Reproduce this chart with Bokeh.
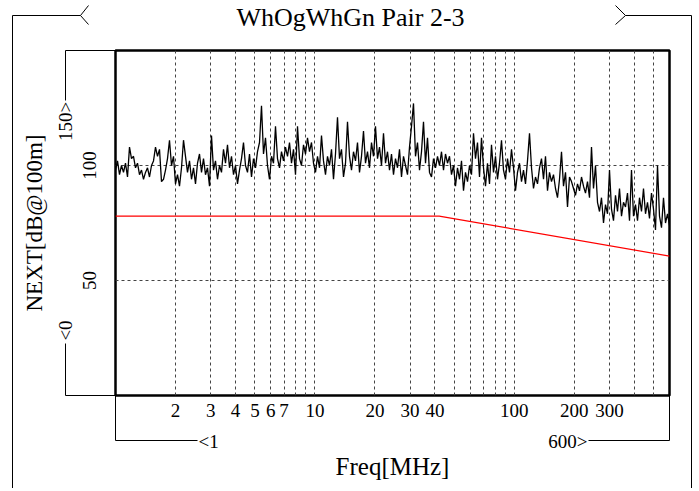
import numpy as np
from math import pi
from bokeh.plotting import figure
from bokeh.models import Range1d, LinearScale, FixedTicker, PrintfTickFormatter
from bokeh.core.properties import value
from bokeh.embed import file_html
from bokeh.resources import INLINE

# ---- data ----
next_db = [
    98, 102, 96, 100, 97, 101, 95, 108, 103, 104, 99, 101, 96, 98, 94, 97, 99, 95, 100, 102,
    108, 104, 107, 93, 94, 98, 103, 111, 100, 104, 92, 96, 91, 99, 111, 104, 97, 102, 94, 99,
    92, 101, 105, 97, 103, 96, 99, 91, 113, 98, 102, 94, 100, 97, 107, 101, 109, 99, 104, 96,
    100, 92, 98, 103, 110, 100, 97, 105, 95, 103,
    99, 106, 110, 126, 105, 112, 100, 94, 104, 101, 117, 103, 99, 106, 102, 108, 104, 110, 101, 107,
    96, 117, 103, 100, 109, 105, 112, 106, 110, 101, 97, 104, 99, 113, 102, 96, 104, 100, 107, 94,
    105, 121, 103, 107, 95, 101, 119, 104, 98, 106, 102, 110, 97, 104, 115, 101, 106, 99, 110, 104,
    117, 103, 108, 100, 114, 101, 106, 98, 105, 96,
    103, 99, 107, 95, 104, 100, 96, 108, 117, 127, 104, 110, 98, 106, 119, 101, 112, 97, 95, 103,
    99, 104, 100, 106, 98, 105, 101, 104, 96, 100, 91, 99, 94, 102, 89, 97, 93, 100, 96, 114,
    103, 110, 95, 112, 99, 91, 101, 92, 109, 97, 104, 94, 101, 111, 98, 94, 103, 97, 107, 99,
    89, 97, 101, 93, 98, 92, 102, 114, 99, 90,
    95, 92, 99, 103, 94, 104, 89, 97, 93, 96, 90, 86, 94, 106, 91, 97, 82, 95, 93, 90,
    87, 92, 89, 95, 91, 88, 93, 86, 108, 90, 100, 84, 80, 86, 75, 83, 79, 98, 81, 76,
    87, 80, 90, 78, 84, 82, 88, 76, 98, 78, 83, 76, 86, 80, 90, 79, 84, 77, 88, 81,
    72, 100, 78, 73, 86, 75, 79, 74,
]
freq = np.geomspace(1, 600, len(next_db))

limit_freq = [1, 42, 600]
limit_db = [78, 78, 60.6]

x_label_ticks = [2, 3, 4, 5, 6, 7, 10, 20, 30, 40, 100, 200, 300]
x_grid_ticks = [2, 3, 4, 5, 6, 7, 8, 9, 10, 20, 30, 40, 50, 60, 70, 80, 90,
                100, 200, 300, 400, 500]
y_ticks = [50, 100]

FONT = "Liberation Serif"

W, H = 696, 488
p = figure(width=W, height=H, x_axis_type="log", x_range=(1, 600), y_range=(0, 150),
           output_backend="svg", toolbar_location=None, title=None,
           min_border_left=115, min_border_right=W - 669,
           min_border_top=50, min_border_bottom=H - 395)
p.background_fill_color = "white"
p.border_fill_color = "white"
p.outline_line_color = "black"
p.outline_line_width = 2.5

# axes
p.xaxis.ticker = FixedTicker(ticks=x_label_ticks, minor_ticks=[])
p.xaxis.formatter = PrintfTickFormatter(format="%d")
p.yaxis.ticker = FixedTicker(ticks=y_ticks, minor_ticks=[])
p.yaxis.major_label_orientation = "vertical"
for ax in (p.xaxis[0], p.yaxis[0]):
    ax.axis_line_color = None
    ax.major_tick_line_color = None
    ax.minor_tick_line_color = None
    ax.major_tick_out = 0
    ax.major_tick_in = 0
    ax.major_label_text_font = FONT
    ax.major_label_text_font_size = "19px"
    ax.major_label_text_color = "black"
    ax.axis_label_text_font = FONT
    ax.axis_label_text_font_style = "normal"
    ax.axis_label_text_color = "black"
p.xaxis.axis_label = "Freq[MHz]"
p.yaxis.axis_label = "NEXT[dB@100m]"
p.xaxis.axis_label_text_font_size = "25px"
p.yaxis.axis_label_text_font_size = "23px"
p.xaxis.major_label_standoff = 8
p.xaxis.axis_label_standoff = 33
p.yaxis.major_label_standoff = 20
p.yaxis.axis_label_standoff = 33

# grid
p.xgrid.ticker = FixedTicker(ticks=x_grid_ticks)
p.ygrid.ticker = FixedTicker(ticks=y_ticks)
for g in (p.xgrid[0], p.ygrid[0]):
    g.grid_line_color = "#444444"
    g.grid_line_dash = "3 3"
    g.grid_line_width = 1

# data
p.line(freq, next_db, line_color="black", line_width=1.3)
p.line(limit_freq, limit_db, line_color="red", line_width=1.2)

# decoration coordinate system (page pixels)
p.extra_x_ranges = {"px": Range1d(115, 669)}
p.extra_y_ranges = {"px": Range1d(395, 50)}
p.extra_x_scales = {"px": LinearScale()}

deco_xs = [[80, 12, 12], [88, 80, 88], [625, 691, 691], [615, 625, 615],
           [115, 65, 65], [65, 65, 115], [115, 115, 197], [669, 669, 588]]
deco_ys = [[15, 15, 495], [5, 15, 24], [15, 15, 495], [5, 15, 24],
           [50, 50, 100], [343, 395, 395], [395, 440, 440], [395, 440, 440]]
p.multi_line(deco_xs, deco_ys, line_color="black", line_width=1,
             x_range_name="px", y_range_name="px", level="overlay")

def lab(x, y, text, size="19px", align="center", angle=0.0):
    p.text(x=[x], y=[y], text=[text], x_range_name="px", y_range_name="px",
           text_font=value(FONT), text_font_size=value(size), text_align=align,
           text_baseline="middle", angle=angle, text_color="black", level="overlay")

lab(350, 17, "WhOgWhGn Pair 2-3", size="26px")
lab(65, 121, "150>", angle=pi / 2)
lab(65, 330, "<0", angle=pi / 2)
lab(198, 441, "<1", align="left")
lab(587, 441, "600>", align="right")

open("out.html", "w").write(file_html(p, INLINE))
